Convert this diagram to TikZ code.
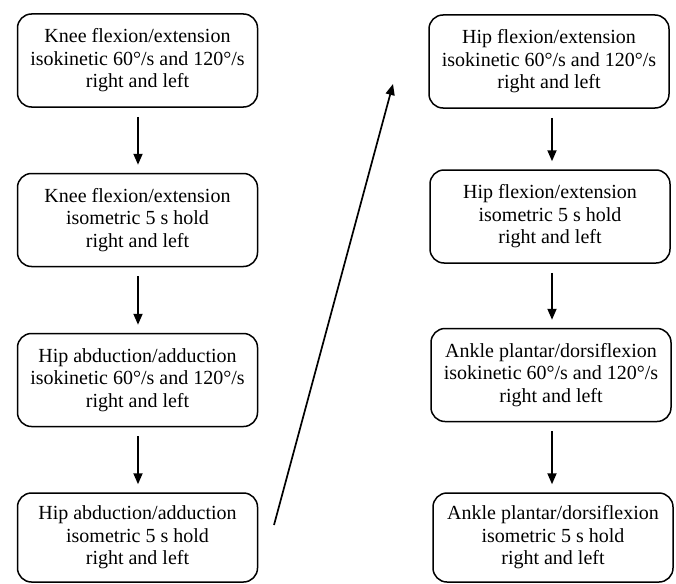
\documentclass[tikz,border=0pt]{standalone}
\usepackage{fontspec}
\setmainfont{Liberation Serif}
\usetikzlibrary{arrows.meta}
\begin{document}
\begin{tikzpicture}[x=1pt,y=-1pt,
  flowbox/.style={draw=black, line width=1.5pt, rounded corners=14pt,
    minimum width=240pt, minimum height=93pt, inner sep=0pt, align=center,
    font=\fontsize{20pt}{22.5pt}\selectfont},
  lastbox/.style={flowbox, minimum height=89pt},
  flowarrow/.style={line width=1.8pt, shorten <=9pt, shorten >=8pt,
    -{Triangle[length=11pt,width=9pt]}}]
\useasboundingbox (0,0) rectangle (676,583);
\fill[white] (0,0) rectangle (676,583);
\node[flowbox] (l1) at (137.5,60.5) {Knee flexion/extension\\isokinetic 60°/s and 120°/s\\right and left};
\node[flowbox] (l2) at (137.5,220) {Knee flexion/extension\\isometric 5 s hold\\right and left};
\node[flowbox] (l3) at (137.5,380) {Hip abduction/adduction\\isokinetic 60°/s and 120°/s\\right and left};
\node[lastbox] (l4) at (137.5,537.5) {Hip abduction/adduction\\isometric 5 s hold\\right and left};
\node[flowbox] (r1) at (549,61.5) {Hip flexion/extension\\isokinetic 60°/s and 120°/s\\right and left};
\node[flowbox] (r2) at (550,216.5) {Hip flexion/extension\\isometric 5 s hold\\right and left};
\node[flowbox] (r3) at (551,375) {Ankle plantar/dorsiflexion\\isokinetic 60°/s and 120°/s\\right and left};
\node[lastbox] (r4) at (553,537.5) {Ankle plantar/dorsiflexion\\isometric 5 s hold\\right and left};
\coordinate (ds) at (274,525);
\coordinate (de) at (393,84);
\draw[flowarrow] (l1.south -| 138,0) -- (l2.north -| 138,0);
\draw[flowarrow] (l2.south -| 138,0) -- (l3.north -| 138,0);
\draw[flowarrow] (l3.south -| 138,0) -- (l4.north -| 138,0);
\draw[flowarrow] (r1.south -| 552,0) -- (r2.north -| 552,0);
\draw[flowarrow] (r2.south -| 552,0) -- (r3.north -| 552,0);
\draw[flowarrow] (r3.south -| 552,0) -- (r4.north -| 552,0);
\draw[line width=1.7pt, -{Triangle[length=11pt,width=9pt]}] (ds) -- (de);
\end{tikzpicture}
\end{document}
